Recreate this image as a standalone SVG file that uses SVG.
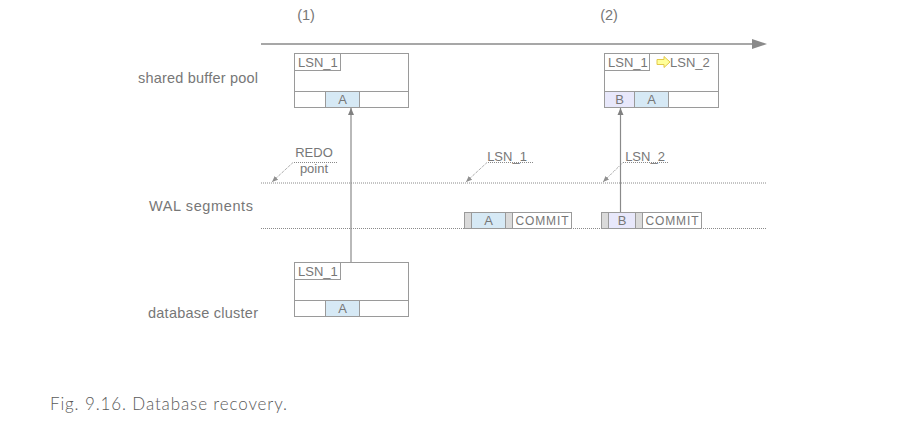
<svg xmlns="http://www.w3.org/2000/svg" width="898" height="422" viewBox="0 0 898 422">
<style>
text{font-family:"Liberation Sans",Arial,sans-serif;fill:#777777}
.lbl{font-size:14.5px}
.sm{font-size:13px}
.xs{font-size:12px}
.box{fill:#fff;stroke:#9a9a9a;stroke-width:1}
.blue{fill:#d6e9f5;stroke:#9a9a9a;stroke-width:1}
.lav{fill:#e8e8fb;stroke:#9a9a9a;stroke-width:1}
.gray{fill:#dadada;stroke:#9a9a9a;stroke-width:1}
.dot{stroke:#8a8a8a;stroke-width:1;stroke-dasharray:1 1;fill:none}
.solid{stroke:#8a8a8a;stroke-width:1.2;fill:none}
</style>
<defs>
<marker id="ah" markerWidth="8" markerHeight="8" refX="7" refY="4" orient="auto" markerUnits="userSpaceOnUse">
<path d="M0,1 L7,4 L0,7 z" fill="#808080"/>
</marker>
<marker id="ahs" markerWidth="7" markerHeight="7" refX="6" refY="3.5" orient="auto" markerUnits="userSpaceOnUse">
<path d="M0,1 L6,3.5 L0,6 z" fill="#909090"/>
</marker>
</defs>

<g id="timeline">
<line x1="261" y1="44" x2="753" y2="44" stroke="#8a8a8a" stroke-width="1.5"/>
<path d="M752,39 L767,44 L752,49 z" fill="#8a8a8a"/>
<text class="lbl" x="306" y="20" text-anchor="middle">(1)</text>
<text class="lbl" x="609" y="20" text-anchor="middle">(2)</text>
</g>

<g id="labels">
<text class="lbl" x="138" y="83" textLength="120" lengthAdjust="spacing">shared buffer pool</text>
<text class="lbl" x="149" y="211" textLength="104" lengthAdjust="spacing">WAL segments</text>
<text class="lbl" x="148" y="318" textLength="110" lengthAdjust="spacing">database cluster</text>
</g>

<g id="wal-lines">
<line class="dot" x1="261" y1="183" x2="767" y2="183"/>
<line class="dot" x1="261" y1="228.5" x2="767" y2="228.5"/>
</g>

<g id="buffer1">
<rect class="box" x="294.5" y="53.5" width="114" height="54"/>
<rect class="box" x="294.5" y="53.5" width="46" height="17"/>
<text class="sm" x="298" y="66.5">LSN_1</text>
<line x1="294.5" y1="91.5" x2="408.5" y2="91.5" stroke="#9a9a9a"/>
<rect class="blue" x="325.5" y="91.5" width="34" height="16"/>
<text class="sm" x="342.5" y="104" text-anchor="middle">A</text>
</g>

<g id="buffer2">
<rect class="box" x="604.5" y="53.5" width="114" height="54"/>
<rect class="box" x="604.5" y="53.5" width="45" height="17"/>
<text class="sm" x="608" y="66.5">LSN_1</text>
<path d="M657,59.5 L664,59.5 L664,56.5 L670,62 L664,67.5 L664,64.5 L657,64.5 z" fill="#ffff99" stroke="#e2c84a" stroke-width="1"/>
<text class="sm" x="670" y="66.5">LSN_2</text>
<line x1="604.5" y1="91.5" x2="718.5" y2="91.5" stroke="#9a9a9a"/>
<rect class="lav" x="604.5" y="91.5" width="30" height="16"/>
<text class="sm" x="619.5" y="104" text-anchor="middle">B</text>
<rect class="blue" x="634.5" y="91.5" width="34" height="16"/>
<text class="sm" x="651.5" y="104" text-anchor="middle">A</text>
</g>

<g id="cluster">
<rect class="box" x="294.5" y="262.5" width="114" height="54"/>
<rect class="box" x="294.5" y="262.5" width="46" height="17"/>
<text class="sm" x="298" y="275.5">LSN_1</text>
<line x1="294.5" y1="300.5" x2="408.5" y2="300.5" stroke="#9a9a9a"/>
<rect class="blue" x="325.5" y="300.5" width="34" height="16"/>
<text class="sm" x="342.5" y="313" text-anchor="middle">A</text>
</g>

<g id="wal1">
<rect class="gray" x="464.5" y="212.5" width="7" height="16"/>
<rect class="blue" x="471.5" y="212.5" width="34" height="16"/>
<text class="sm" x="488.5" y="225" text-anchor="middle">A</text>
<rect class="gray" x="505.5" y="212.5" width="7" height="16"/>
<rect class="box" x="512.5" y="212.5" width="59" height="16"/>
<text class="xs" x="542" y="224.5" text-anchor="middle" textLength="53" lengthAdjust="spacing">COMMIT</text>
</g>

<g id="wal2">
<rect class="gray" x="601.5" y="212.5" width="7" height="16"/>
<rect class="lav" x="608.5" y="212.5" width="27" height="16"/>
<text class="sm" x="622" y="225" text-anchor="middle">B</text>
<rect class="gray" x="635.5" y="212.5" width="7" height="16"/>
<rect class="box" x="642.5" y="212.5" width="59" height="16"/>
<text class="xs" x="672" y="224.5" text-anchor="middle" textLength="53" lengthAdjust="spacing">COMMIT</text>
</g>

<g id="pointers">
<text class="sm" x="314" y="157" text-anchor="middle">REDO</text>
<text class="sm" x="314" y="173" text-anchor="middle">point</text>
<text class="sm" x="507" y="161" text-anchor="middle">LSN_1</text>
<text class="sm" x="645" y="161" text-anchor="middle">LSN_2</text>
</g>

<g id="connectors">
<line x1="351" y1="262" x2="351" y2="108" class="solid" marker-end="url(#ah)"/>
<line x1="620.5" y1="212" x2="620.5" y2="108" class="solid" marker-end="url(#ah)"/>
<polyline class="dot" points="337,162.5 293,162.5 272,182" marker-end="url(#ahs)"/>
<polyline class="dot" points="533,162.5 487,162.5 466,182" marker-end="url(#ahs)"/>
<polyline class="dot" points="668,162.5 623,162.5 603,182" marker-end="url(#ahs)"/>
</g>

<g id="caption">
<text x="50" y="410" style="font-family:Lato,'Liberation Sans',sans-serif;font-weight:300;font-size:17px;fill:#5a5a5a" textLength="237" lengthAdjust="spacing">Fig. 9.16. Database recovery.</text>
</g>
</svg>
